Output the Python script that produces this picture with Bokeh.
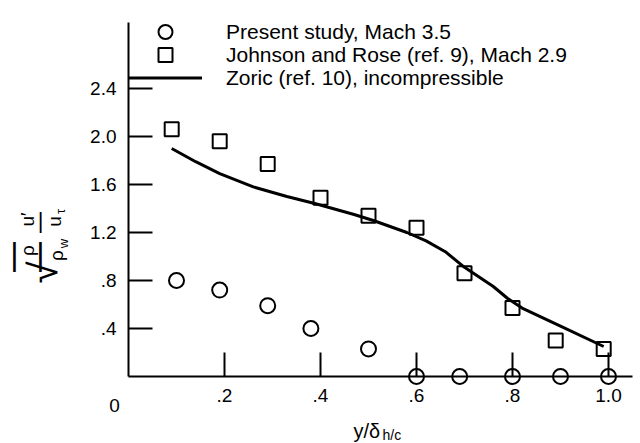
import math
from bokeh.plotting import figure
from bokeh.models import (Range1d, FixedTicker, CustomJSTickFormatter, Label,
                          Legend, LegendItem, LinearAxis)
from bokeh.embed import file_html
from bokeh.resources import INLINE

# ---------------- data ----------------
present_x = [0.10, 0.19, 0.29, 0.38, 0.50, 0.60, 0.69, 0.80, 0.90, 1.00]
present_y = [0.80, 0.72, 0.59, 0.40, 0.23, 0.00, 0.00, 0.00, 0.00, 0.00]

johnson_x = [0.09, 0.19, 0.29, 0.40, 0.50, 0.60, 0.70, 0.80, 0.89, 0.99]
johnson_y = [2.06, 1.96, 1.77, 1.49, 1.34, 1.24, 0.86, 0.57, 0.30, 0.23]

zoric_x = [0.09, 0.14, 0.19, 0.26, 0.33, 0.39, 0.47, 0.51, 0.58, 0.62,
           0.66, 0.70, 0.76, 0.79, 0.82, 0.90, 0.99]
zoric_y = [1.90, 1.79, 1.69, 1.58, 1.50, 1.44, 1.35, 1.30, 1.20, 1.13,
           1.04, 0.91, 0.75, 0.65, 0.57, 0.42, 0.25]

x_ticks = [0.2, 0.4, 0.6, 0.8, 1.0]
x_tick_labels = [".2", ".4", ".6", ".8", "1.0"]
y_ticks = [0.4, 0.8, 1.2, 1.6, 2.0, 2.4]
y_tick_labels = [".4", ".8", "1.2", "1.6", "2.0", "2.4"]
origin_label = "0"

legend_labels = ["Present study, Mach 3.5",
                 "Johnson and Rose (ref. 9), Mach 2.9",
                 "Zoric (ref. 10), incompressible"]

FONT = "Liberation Sans"

# ---------------- figure (frame fills the whole canvas) ----------------
W, H = 640, 443
OX, OY = 128, 376          # pixel position of the data origin
SX, SY = 480.0, 120.0      # pixels per data unit
p = figure(width=W, height=H,
           x_range=Range1d(-OX / SX, (W - OX) / SX),
           y_range=Range1d(-(H - OY) / SY, OY / SY),
           x_axis_location=None, y_axis_location=None,
           output_backend="svg", toolbar_location=None,
           min_border_left=0, min_border_right=0,
           min_border_top=0, min_border_bottom=0)
p.outline_line_color = None
p.grid.visible = False
p.background_fill_color = "white"
p.border_fill_color = "white"

zr = p.line(zoric_x, zoric_y, line_color="black", line_width=3)
jr = p.scatter(johnson_x, johnson_y, marker="square", size=14,
               fill_color=None, line_color="black", line_width=2)
pr = p.scatter(present_x, present_y, marker="circle", size=15,
               fill_color=None, line_color="black", line_width=2)

def fmt(tick_values, tick_texts):
    return CustomJSTickFormatter(
        args=dict(tv=tick_values, tt=tick_texts),
        code="const i = tv.findIndex((t) => Math.abs(t - tick) < 1e-6);"
             "return i >= 0 ? tt[i] : '';")

xax = LinearAxis(ticker=FixedTicker(ticks=x_ticks), formatter=fmt(x_ticks, x_tick_labels))
yax = LinearAxis(ticker=FixedTicker(ticks=y_ticks), formatter=fmt(y_ticks, y_tick_labels))
for ax in (xax, yax):
    ax.fixed_location = 0
    ax.axis_line_color = "black"
    ax.axis_line_width = 2
    ax.major_tick_line_color = "black"
    ax.major_tick_line_width = 2
    ax.major_tick_in = 24
    ax.major_tick_out = 0
    ax.minor_tick_in = 0
    ax.minor_tick_out = 0
    ax.major_label_text_font = FONT
    ax.major_label_text_font_size = "19px"
    ax.major_label_text_color = "black"
xax.bounds = (0, 1.05)
yax.bounds = (0, 2.95)
xax.major_label_standoff = 12
yax.major_label_standoff = 12
p.add_layout(xax, "below")
p.add_layout(yax, "left")

# origin label
p.add_layout(Label(x=0, y=0, text=origin_label, x_offset=-14, y_offset=-29,
                   text_align="center", text_baseline="middle",
                   text_font=FONT, text_font_size="19px", text_color="black"))

# x-axis title  y/δ_{h/c}
p.add_layout(Label(x=0, y=0, text="y/δ", x_offset=225, y_offset=-54,
                   text_align="left", text_baseline="alphabetic",
                   text_font=FONT, text_font_size="20px", text_color="black"))
p.add_layout(Label(x=0, y=0, text="h/c", x_offset=254, y_offset=-58,
                   text_align="left", text_baseline="alphabetic",
                   text_font=FONT, text_font_size="14px", text_color="black"))

# y-axis title  sqrt(rho/rho_w) u'/u_tau  (rotated pieces)
R = math.pi / 2
def lab(text, dx, dy, size, angle=R):
    p.add_layout(Label(x=0, y=0, text=text, x_offset=dx, y_offset=dy, angle=angle,
                       text_align="center", text_baseline="middle",
                       text_font=FONT, text_font_size=size, text_color="black"))

lab("ρ", -101, 126, "19px")
lab("|", -88, 123, "32px", 0)
lab("ρ", -72, 121, "19px")
lab("w", -65, 133, "13px")
lab("|", -114, 123, "32px", 0)
lab("√", -86, 104, "40px")
lab("u′", -101, 157, "19px")
lab("|", -88, 156, "22px", 0)
lab("u", -74, 155, "19px")
lab("τ", -68, 165, "13px")

# legend: one single-row legend per entry so that rows sit as close as in the reference
renderers = [pr, jr, zr]
row_bottoms = [394, 371, 348]   # distance of each row's bottom from the canvas bottom
for lbl, r, vy in zip(legend_labels, renderers, row_bottoms):
    lg = Legend(items=[LegendItem(label=lbl, renderers=[r])], location=(128, vy))
    lg.glyph_width = 74
    lg.glyph_height = 35
    lg.padding = 0
    lg.margin = 0
    lg.spacing = 0
    lg.label_standoff = 24
    lg.label_text_font = FONT
    lg.label_text_font_size = "21px"
    lg.label_text_color = "black"
    lg.background_fill_alpha = 0
    lg.border_line_alpha = 0
    p.add_layout(lg)

open("out.html", "w").write(file_html(p, INLINE))
